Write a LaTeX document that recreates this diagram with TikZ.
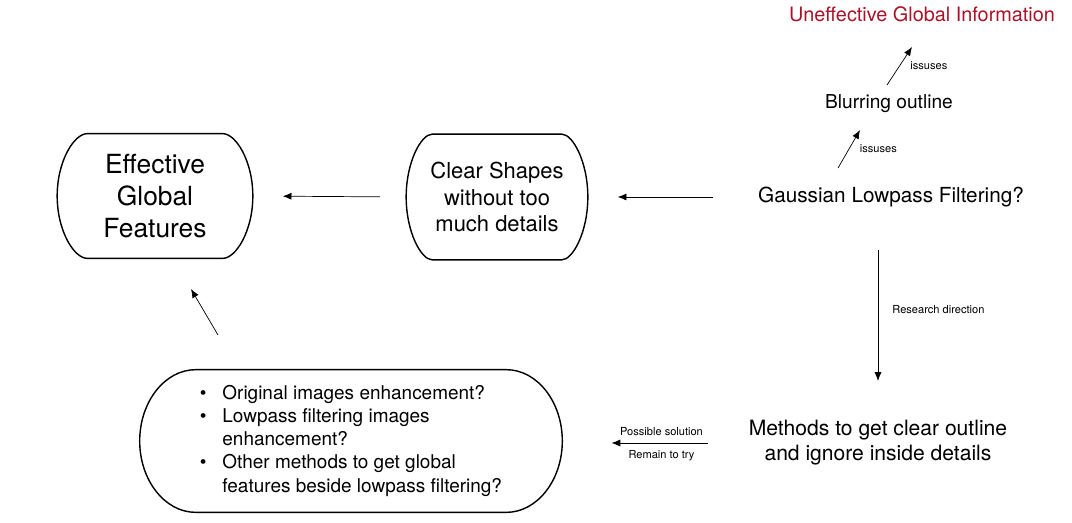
\documentclass[tikz,border=0pt]{standalone}
\usepackage{fontspec}
\setmainfont{TeX Gyre Heros}
\usetikzlibrary{positioning, arrows.meta}
\definecolor{issuered}{RGB}{170,18,40}
\tikzset{every picture/.style={x=0.02cm,y=-0.02cm},
         roundbox/.style={rectangle,inner sep=0pt,align=center},
         flow/.style={-{Latex[length=5pt,width=4pt]},thin},
         note/.style={font=\fontsize{6.3}{7}\selectfont,inner sep=1pt},
         plain/.style={align=center}}
% curved sides of the boxes: node, bulge, corner distance, side distance
\newcommand{\bulgeoutline}[4]{%
  \draw[thick]([xshift=#2]#1.north west) to[out=180,in=90,out distance=#3,in distance=#4] (#1.west)
     to[out=-90,in=180,out distance=#4,in distance=#3] ([xshift=#2]#1.south west)
     --([xshift=-#2]#1.south east) to[out=0,in=-90,out distance=#3,in distance=#4] (#1.east)
     to[out=90,in=0,out distance=#4,in distance=#3] ([xshift=-#2]#1.north east) -- cycle;}

\begin{document}
\begin{tikzpicture}
        \useasboundingbox (0,0) rectangle (1072,522);

        \node[plain, text=issuered, font=\fontsize{11.3}{14}\selectfont](uneff)at(922,14){Uneffective Global Information};
        \node[plain, font=\fontsize{10.9}{14}\selectfont](blur)at(889,104){Blurring outline};
        \node[plain, font=\fontsize{11.8}{14}\selectfont](gauss)at(891,197){Gaussian Lowpass Filtering?};
        \node[plain, font=\fontsize{12}{14.2}\selectfont](methods)at(878,443){Methods to get clear outline\\and ignore inside details};

        \node[roundbox, minimum width=3.62cm, minimum height=2.5cm, font=\fontsize{12.5}{15.3}\selectfont](clear)at(497,197){Clear Shapes\\without too\\much details};
        \node[roundbox, minimum width=3.9cm, minimum height=2.48cm, font=\fontsize{15}{18.2}\selectfont](effective)at(155,196){Effective\\Global\\Features};
        \node[roundbox, minimum width=8.44cm, minimum height=2.84cm, font=\fontsize{10.8}{13.2}\selectfont](methodsbox)at(351,441){%
            \begin{tabular}{@{}l@{\hspace{9pt}}l@{}}
            \textbullet & Original images enhancement?\\
            \textbullet & Lowpass filtering images\\
                        & enhancement?\\
            \textbullet & Other methods to get global\\
                        & features beside lowpass filtering?
            \end{tabular}};
        \bulgeoutline{clear}{0.52cm}{0.22cm}{0.7cm}
        \bulgeoutline{effective}{0.6cm}{0.26cm}{0.7cm}
        \bulgeoutline{methodsbox}{1.12cm}{0.62cm}{0.78cm}

        \coordinate (b1)at(838,168);
        \coordinate (b2)at(860,130);
        \coordinate (u1)at(887,85);
        \coordinate (u2)at(912,47);
        \draw[flow](b1)--(b2)node[note, midway, right=5pt]{issuses};
        \draw[flow](u1)--(u2)node[note, midway, right=5pt]{issuses};

        \draw[flow, shorten <=22pt, shorten >=17pt](gauss.west)--(clear.east);
        \draw[flow, shorten <=15pt, shorten >=17pt](clear.west)--(effective.east);

        \draw[flow, shorten <=21pt, shorten >=19pt](methods.north |- gauss.south)--(methods.north)
             node[note, pos=0.48, right=7pt]{Research direction};

        \draw[flow, shorten <=20pt, shorten >=28pt](methods.west)--(methodsbox.east |- methods.west)
             node[note, pos=0.45, above=3pt]{Possible solution}
             node[note, pos=0.45, below=3pt]{Remain to try};

        \coordinate (e1)at(218,335);
        \coordinate (e2)at(191,289);
        \draw[flow](e1)--(e2);
    \end{tikzpicture}
\end{document}
